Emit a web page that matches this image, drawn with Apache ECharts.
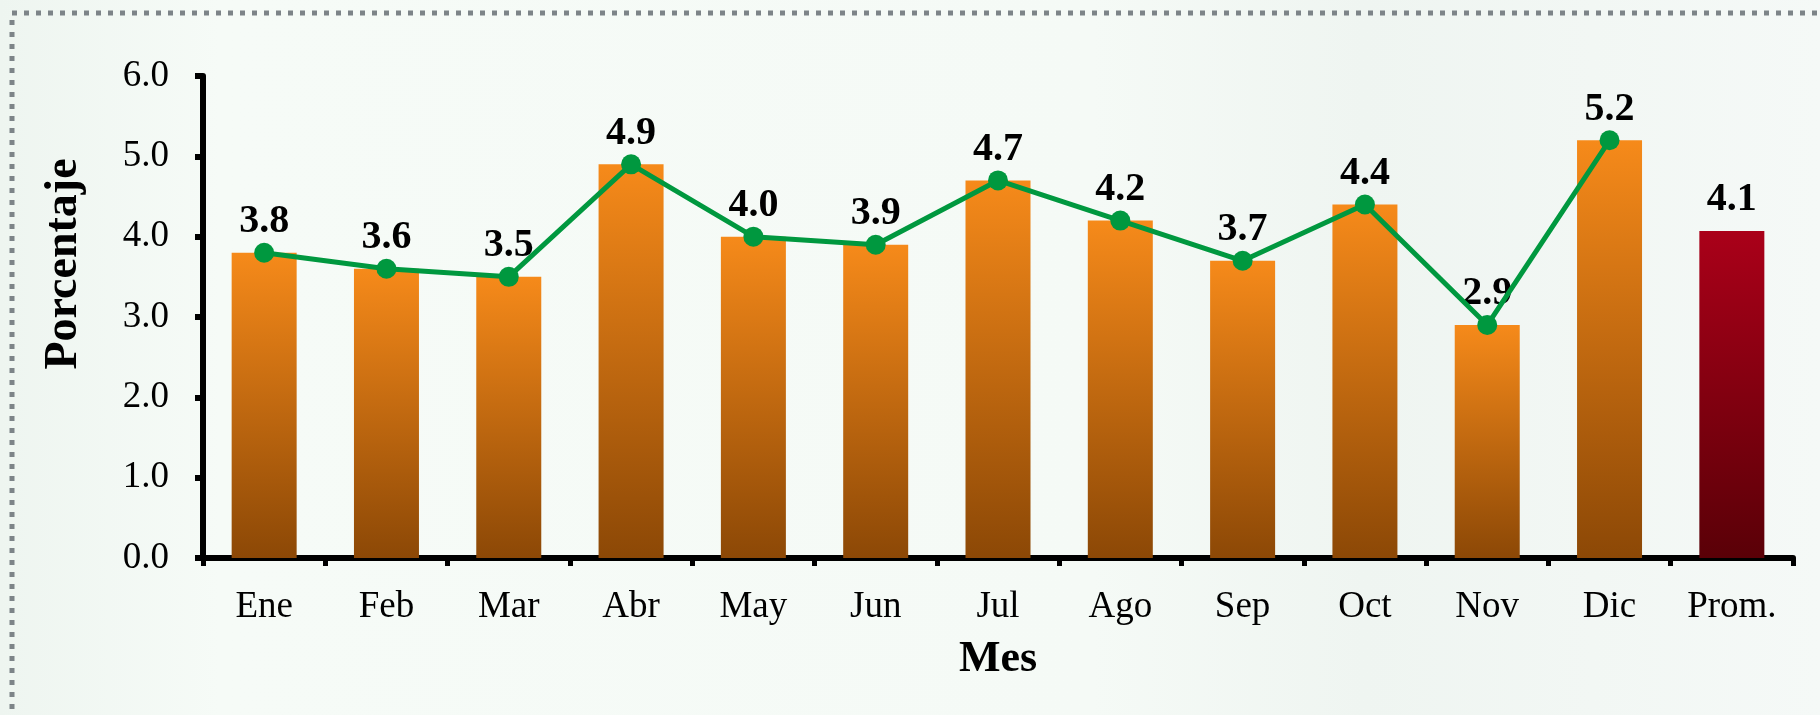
<!DOCTYPE html>
<html>
<head>
<meta charset="utf-8">
<script src="https://cdn.jsdelivr.net/npm/echarts@6/dist/echarts.min.js"></script>
<style>
  html, body { margin: 0; padding: 0; }
  #chart { width: 1820px; height: 715px; }
</style>
</head>
<body>
<div id="chart"></div>
<script>
// datos
const meses = ['Ene', 'Feb', 'Mar', 'Abr', 'May', 'Jun', 'Jul', 'Ago', 'Sep', 'Oct', 'Nov', 'Dic', 'Prom.']
const porcentaje = [3.8, 3.6, 3.5, 4.9, 4.0, 3.9, 4.7, 4.2, 3.7, 4.4, 2.9, 5.2, 4.07]
const tendencia = [3.8, 3.6, 3.5, 4.9, 4.0, 3.9, 4.7, 4.2, 3.7, 4.4, 2.9, 5.2, '-']

const chart = echarts.init(document.getElementById('chart'))
const fuente = 'Liberation Serif'

const naranja = new echarts.graphic.LinearGradient(0, 0, 0, 1, [
  { offset: 0, color: '#f68a1a' },
  { offset: 1, color: '#8c4806' }
])
const rojo = new echarts.graphic.LinearGradient(0, 0, 0, 1, [
  { offset: 0, color: '#aa0019' },
  { offset: 1, color: '#5a0007' }
])

const barras = porcentaje.map((v, i) => ({
  value: v,
  itemStyle: { color: i === porcentaje.length - 1 ? rojo : naranja }
}))

const option = {
  backgroundColor: new echarts.graphic.LinearGradient(0, 0, 1, 0, [
    { offset: 0, color: '#eef5f0' },
    { offset: 0.12, color: '#f6fbf7' },
    { offset: 0.6, color: '#f5faf6' },
    { offset: 0.75, color: '#eff5f1' },
    { offset: 1, color: '#f5f9f7' }
  ]),
  animation: false,
  grid: { left: 203, right: 27, top: 76, bottom: 157 },
  graphic: [
    {
      type: 'rect',
      shape: { x: 12, y: 13, width: 1900, height: 800 },
      style: { fill: 'none', stroke: '#7d8488', lineWidth: 5, lineDash: [5, 7] },
      silent: true
    },
    {
      type: 'text',
      x: 64,
      y: 264,
      rotation: Math.PI / 2,
      style: {
        text: 'Porcentaje',
        font: 'bold 46px "Liberation Serif"',
        fill: '#000',
        textAlign: 'center',
        textVerticalAlign: 'middle'
      }
    }
  ],
  xAxis: {
    type: 'category',
    data: meses,
    name: 'Mes',
    nameLocation: 'middle',
    nameGap: 80,
    nameTextStyle: { fontFamily: fuente, fontWeight: 'bold', fontSize: 44, color: '#000' },
    axisLine: { lineStyle: { color: '#000', width: 6 } },
    axisTick: { show: true, length: 8, lineStyle: { color: '#000', width: 5 } },
    axisLabel: { fontFamily: fuente, fontSize: 37, color: '#000', margin: 31 }
  },
  yAxis: {
    type: 'value',
    min: 0,
    max: 6,
    interval: 1,
    axisLine: { show: true, lineStyle: { color: '#000', width: 6 } },
    axisTick: { show: true, length: 8, lineStyle: { color: '#000', width: 6 } },
    splitLine: { show: false },
    axisLabel: {
      fontFamily: fuente, fontSize: 37, color: '#000', margin: 34,
      formatter: v => v.toFixed(1)
    }
  },
  series: [
    {
      name: 'Porcentaje',
      type: 'bar',
      barWidth: 65,
      data: barras,
      label: {
        show: true,
        position: 'top',
        distance: 11,
        fontFamily: fuente,
        fontWeight: 'bold',
        fontSize: 40,
        color: '#000',
        formatter: p => p.value.toFixed(1)
      }
    },
    {
      name: 'Tendencia',
      type: 'line',
      data: tendencia,
      symbol: 'circle',
      symbolSize: 20,
      lineStyle: { color: '#00983f', width: 5 },
      itemStyle: { color: '#00983f' },
      z: 3
    }
  ]
}
chart.setOption(option)
</script>
</body>
</html>
